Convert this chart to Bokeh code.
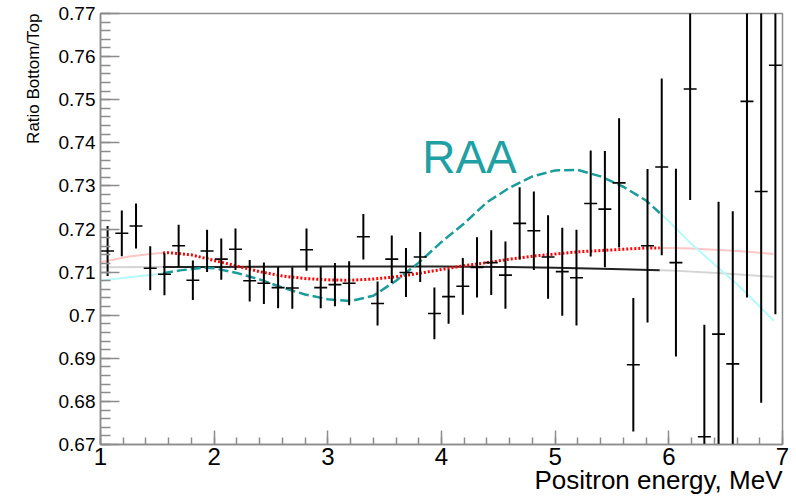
import numpy as np
from bokeh.plotting import figure
from bokeh.models import FixedTicker, Label, Title
from bokeh.embed import file_html
from bokeh.resources import INLINE

# ---- data -------------------------------------------------------------
energy = [1.0625, 1.1875, 1.3125, 1.4375, 1.5625, 1.6875, 1.8125, 1.9375,
          2.0625, 2.1875, 2.3125, 2.4375, 2.5625, 2.6875, 2.8125, 2.9375,
          3.0625, 3.1875, 3.3125, 3.4375, 3.5625, 3.6875, 3.8125, 3.9375,
          4.0625, 4.1875, 4.3125, 4.4375, 4.5625, 4.6875, 4.8125, 4.9375,
          5.0625, 5.1875, 5.3125, 5.4375, 5.5625, 5.6875, 5.8125, 5.9375,
          6.0625, 6.1875, 6.3125, 6.4375, 6.5625, 6.6875, 6.8125, 6.9375]
bin_half_width = 0.057

ratio = [0.7149, 0.7190, 0.7207, 0.7109, 0.7095, 0.7161, 0.7081, 0.7149,
         0.7130, 0.7153, 0.7080, 0.7074, 0.7064, 0.7063, 0.7152, 0.7064,
         0.7071, 0.7074, 0.7182, 0.7027, 0.7130, 0.7099, 0.7135, 0.7004,
         0.7043, 0.7067, 0.7111, 0.7122, 0.7093, 0.7213, 0.7196, 0.7135,
         0.7101, 0.7087, 0.7259, 0.7246, 0.7307, 0.6885, 0.7161, 0.7344,
         0.7122, 0.7525, 0.6718, 0.6956, 0.6887, 0.7496, 0.7287, 0.7580]

ratio_err = [0.0058, 0.0053, 0.0052, 0.0051, 0.0049, 0.0049, 0.0046, 0.0049,
             0.0048, 0.0048, 0.0048, 0.0048, 0.0048, 0.0048, 0.0049, 0.0048,
             0.0050, 0.0051, 0.0053, 0.0051, 0.0055, 0.0057, 0.0058, 0.0060,
             0.0063, 0.0066, 0.0070, 0.0075, 0.0078, 0.0084, 0.0091, 0.0097,
             0.0102, 0.0111, 0.0123, 0.0135, 0.0150, 0.0155, 0.0178, 0.0205,
             0.0218, 0.0258, 0.0260, 0.0307, 0.0354, 0.0455, 0.0490, 0.0578]

fit_xmin, fit_xmax = 1.55, 5.92

const_x = [1.0, 2.0, 3.0, 4.0, 4.5, 5.0, 5.5, 6.0, 6.5, 6.92]
const_y = [0.7111, 0.7112, 0.7113, 0.7113, 0.7112, 0.7110, 0.7107, 0.7104, 0.7097, 0.7089]

red_x = [1.0, 1.25, 1.5, 1.6, 1.8, 2.0, 2.2, 2.4, 2.6, 2.8, 3.0, 3.2, 3.4, 3.6,
         3.8, 4.0, 4.2, 4.4, 4.6, 4.8, 5.0, 5.2, 5.4, 5.6, 5.8, 6.0, 6.2, 6.4,
         6.6, 6.8, 6.92]
red_y = [0.7123, 0.7136, 0.7144, 0.7145, 0.7140, 0.7127, 0.7114, 0.7101, 0.7091,
         0.7085, 0.7082, 0.7081, 0.7084, 0.7089, 0.7097, 0.7106, 0.7115, 0.7122,
         0.7130, 0.7137, 0.7142, 0.7147, 0.7150, 0.7153, 0.7156, 0.7156, 0.7155,
         0.7152, 0.7149, 0.7145, 0.7142]

raa_x = [1.0, 1.25, 1.5, 1.7, 1.9, 2.0, 2.2, 2.4, 2.6, 2.8, 3.0, 3.2, 3.4, 3.6,
         3.8, 4.0, 4.2, 4.4, 4.6, 4.8, 5.0, 5.2, 5.4, 5.6, 5.8, 6.0, 6.2, 6.4,
         6.6, 6.8, 6.92]
raa_y = [0.7080, 0.7088, 0.7095, 0.7104, 0.7110, 0.7109, 0.7098, 0.7083, 0.7064,
         0.7048, 0.7037, 0.7033, 0.7045, 0.7080, 0.7122, 0.7170, 0.7213, 0.7262,
         0.7296, 0.7322, 0.7336, 0.7337, 0.7322, 0.7298, 0.7266, 0.7218, 0.7165,
         0.7118, 0.7072, 0.7020, 0.6987]

x_ticks = [1, 2, 3, 4, 5, 6, 7]
y_ticks = [0.67, 0.68, 0.69, 0.70, 0.71, 0.72, 0.73, 0.74, 0.75, 0.76, 0.77]
y_tick_labels = ["0.67", "0.68", "0.69", "0.7", "0.71", "0.72", "0.73",
                 "0.74", "0.75", "0.76", "0.77"]
x_title = "Positron energy, MeV"
y_title = "Ratio Bottom/Top"
annotation = "RAA"

# ---- figure -----------------------------------------------------------
AX = "#8c8c8c"
FONT = "Liberation Sans"

p = figure(width=796, height=496, x_range=(1, 7), y_range=(0.67, 0.77),
           output_backend="svg", toolbar_location=None,
           min_border_left=100, min_border_right=14, min_border_top=13,
           min_border_bottom=52)
p.xgrid.visible = False
p.ygrid.visible = False
p.outline_line_color = AX
p.outline_line_width = 1.5
p.background_fill_color = "white"
p.border_fill_color = "white"

x_minor = [round(v, 2) for v in np.arange(1.0, 7.0001, 0.2)]
y_minor = [round(v, 3) for v in np.arange(0.67, 0.77001, 0.002)]
p.xaxis.ticker = FixedTicker(ticks=x_ticks, minor_ticks=x_minor)
p.yaxis.ticker = FixedTicker(ticks=y_ticks, minor_ticks=y_minor)
p.yaxis.major_label_overrides = {t: l for t, l in zip(y_ticks, y_tick_labels)}

for ax in (p.xaxis[0], p.yaxis[0]):
    ax.axis_line_color = AX
    ax.axis_line_width = 1.5
    ax.major_tick_line_color = AX
    ax.minor_tick_line_color = AX
    ax.major_tick_line_width = 1.5
    ax.minor_tick_line_width = 1.5
    ax.major_tick_out = 0
    ax.minor_tick_out = 0
    ax.major_label_text_font = FONT
    ax.major_label_text_color = "black"

p.xaxis.major_tick_in = 14
p.xaxis.minor_tick_in = 7
p.yaxis.major_tick_in = 19
p.yaxis.minor_tick_in = 10

p.xaxis.major_label_text_font_size = "24px"
p.xaxis.major_label_standoff = 3
p.yaxis.major_label_text_font_size = "19px"
p.yaxis.major_label_standoff = 5

# axis titles, right/top aligned as in ROOT
p.add_layout(Title(text=x_title, align="right", text_font=FONT,
                   text_font_size="26px", text_font_style="normal",
                   text_color="black", standoff=-10, offset=0), "below")
p.add_layout(Title(text=y_title, align="right", text_font=FONT,
                   text_font_size="17px", text_font_style="normal",
                   text_color="black", standoff=26, offset=0), "left")

# ---- fit curves ------------------------------------------------------
def split(xs, ys):
    xs = np.asarray(xs, float)
    ys = np.asarray(ys, float)
    yi0 = np.interp(fit_xmin, xs, ys)
    yi1 = np.interp(fit_xmax, xs, ys)
    m_in = (xs > fit_xmin) & (xs < fit_xmax)
    left = (list(xs[xs < fit_xmin]) + [fit_xmin], list(ys[xs < fit_xmin]) + [yi0])
    mid = ([fit_xmin] + list(xs[m_in]) + [fit_xmax], [yi0] + list(ys[m_in]) + [yi1])
    right = ([fit_xmax] + list(xs[xs > fit_xmax]), [yi1] + list(ys[xs > fit_xmax]))
    return left, mid, right

# constant fit
l, m, r = split(const_x, const_y)
p.line(l[0], l[1], line_color="#d4d4d4", line_width=2)
p.line(r[0], r[1], line_color="#d4d4d4", line_width=2)
p.line(m[0], m[1], line_color="#222222", line_width=2)

# oscillation fit (red)
l, m, r = split(red_x, red_y)
p.line(l[0], l[1], line_color="#ffc6c6", line_width=2)
p.line(r[0], r[1], line_color="#ffc6c6", line_width=2)
p.line(m[0], m[1], line_color="#ff0000", line_width=3, line_dash="2 2")

# RAA curve (teal)
l, m, r = split(raa_x, raa_y)
p.line(l[0], l[1], line_color="#b4fafa", line_width=2)
p.line(r[0], r[1], line_color="#b4fafa", line_width=2)
p.line(m[0], m[1], line_color="#1a9c9c", line_width=2.5, line_dash="10 4")

# ---- data points with error bars -------------------------------------
e = np.asarray(energy)
rv = np.asarray(ratio)
er = np.asarray(ratio_err)
p.segment(x0=e, y0=rv - er, x1=e, y1=rv + er, line_color="black", line_width=2)
p.segment(x0=e - bin_half_width, y0=rv, x1=e + bin_half_width, y1=rv,
          line_color="black", line_width=1.6)

p.add_layout(Label(x=3.83, y=0.7368, text=annotation, text_font=FONT,
                   text_font_size="46px", text_color="#1fa0a4",
                   text_baseline="alphabetic", text_align="left"))

open("out.html", "w").write(file_html(p, INLINE))
